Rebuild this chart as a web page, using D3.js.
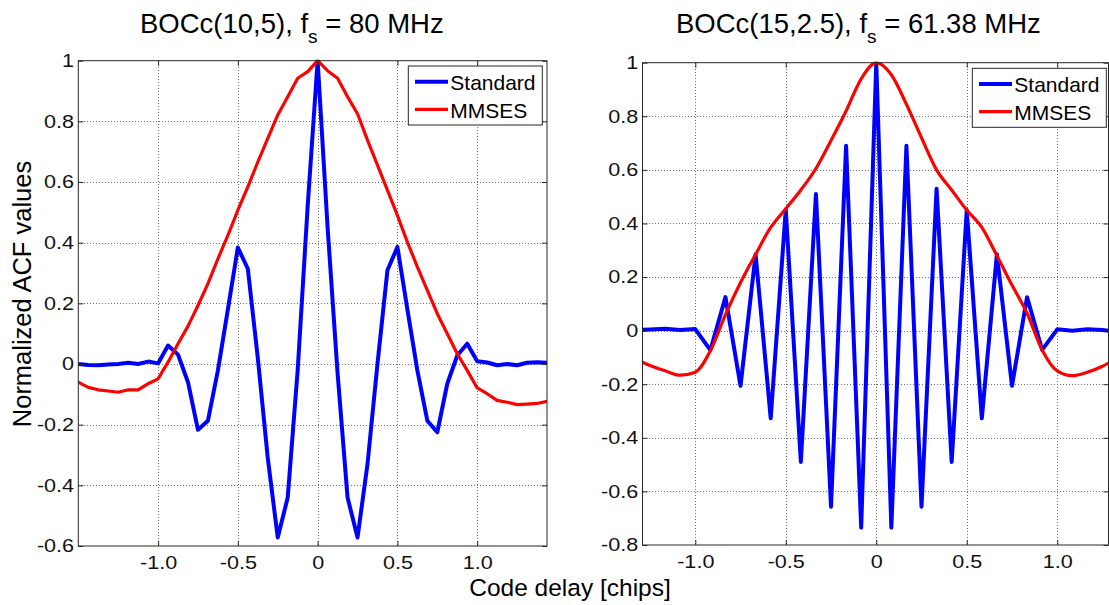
<!DOCTYPE html>
<html><head><meta charset="utf-8">
<script src="https://cdn.jsdelivr.net/npm/d3@7"></script>
<style>
body{margin:0;background:#fff}
svg{display:block;font-family:"Liberation Sans",Arial,Helvetica,sans-serif}
</style></head><body>
<svg id="c" width="1109" height="605"></svg>
<script>
// ---------------- DATA ----------------
const seriesNames = ["Standard", "MMSES"];
const titlesLeft = {main: "BOCc(10,5), f", sub: "s", rest: " = 80 MHz"};
const titlesRight = {main: "BOCc(15,2.5), f", sub: "s", rest: " = 61.38 MHz"};
const xLabel = "Code delay [chips]";
const yLabel = "Normalized ACF values";

const xTickValues = [-1, -0.5, 0, 0.5, 1];
const xTickLabels = ["-1.0", "-0.5", "0", "0.5", "1.0"];
const leftYTickValues = [-0.6, -0.4, -0.2, 0, 0.2, 0.4, 0.6, 0.8, 1];
const leftYTickLabels = ["-0.6", "-0.4", "-0.2", "0", "0.2", "0.4", "0.6", "0.8", "1"];
const rightYTickValues = [-0.8, -0.6, -0.4, -0.2, 0, 0.2, 0.4, 0.6, 0.8, 1];
const rightYTickLabels = ["-0.8", "-0.6", "-0.4", "-0.2", "0", "0.2", "0.4", "0.6", "0.8", "1"];

// Left panel: BOCc(10,5)
const leftDelay = [-1.5, -1.4375, -1.375, -1.3125, -1.25, -1.1875, -1.125, -1.0625, -1.0, -0.9375,
  -0.875, -0.8125, -0.75, -0.6875, -0.625, -0.5625, -0.5, -0.4375, -0.375, -0.3125,
  -0.25, -0.1875, -0.125, -0.0625, 0, 0.0625, 0.125, 0.1875, 0.25, 0.3125,
  0.375, 0.4375, 0.5, 0.5625, 0.625, 0.6875, 0.75, 0.8125, 0.875, 0.9375,
  1.0, 1.0625, 1.125, 1.1875, 1.25, 1.3125, 1.375, 1.4375];
const leftStandard = [0.0, -0.003, -0.004, -0.002, 0.0, 0.004, 0.0, 0.008, 0.002, 0.061,
  0.031, -0.06, -0.217, -0.187, -0.021, 0.18, 0.384, 0.314, 0.02, -0.31,
  -0.572, -0.44, -0.02, 0.52, 1.0, 0.45, -0.03, -0.44, -0.572, -0.33,
  0.0, 0.309, 0.386, 0.18, -0.021, -0.187, -0.225, -0.065, 0.028, 0.067,
  0.009, 0.005, -0.004, 0.0, -0.004, 0.004, 0.006, 0.004];
const leftMMSES = [-0.06, -0.077, -0.085, -0.089, -0.093, -0.085, -0.085, -0.065, -0.049, 0.006,
  0.067, 0.125, 0.193, 0.265, 0.347, 0.424, 0.507, 0.584, 0.666, 0.744,
  0.821, 0.881, 0.942, 0.964, 1.0, 0.967, 0.942, 0.881, 0.825, 0.738,
  0.656, 0.573, 0.49, 0.402, 0.32, 0.243, 0.166, 0.1, 0.034, -0.021,
  -0.079, -0.098, -0.12, -0.126, -0.134, -0.132, -0.13, -0.123];

// Right panel: BOCc(15,2.5)
const rightStdDelay = [-1.2917, -1.25, -1.1667, -1.0833, -1.0, -0.9167, -0.8333, -0.75, -0.6667, -0.5833,
  -0.5, -0.4167, -0.3333, -0.25, -0.1667, -0.0833, 0, 0.0833, 0.1667, 0.25,
  0.3333, 0.4167, 0.5, 0.5833, 0.6667, 0.75, 0.8333, 0.9167, 1.0, 1.0833,
  1.1667, 1.25, 1.2833];
const rightStandard = [0.003, 0.004, 0.007, 0.002, 0.006, -0.073, 0.125, -0.206, 0.285, -0.327,
  0.452, -0.49, 0.51, -0.657, 0.69, -0.735, 1.0, -0.735, 0.69, -0.657,
  0.53, -0.49, 0.45, -0.327, 0.285, -0.206, 0.125, -0.072, 0.005, 0.0,
  0.005, 0.002, 0.0];
const rightMmsesDelay = [-1.2917, -1.25, -1.1667, -1.0833, -1.0, -0.9167, -0.8333, -0.75, -0.6667, -0.5833,
  -0.5, -0.4167, -0.3333, -0.25, -0.1667, -0.0833, 0, 0.0833, 0.1667, 0.25,
  0.3333, 0.4167, 0.5, 0.5833, 0.6667, 0.75, 0.8333, 0.9167, 1.0, 1.0833,
  1.1667, 1.25, 1.2833];
const rightMMSES = [-0.118, -0.13, -0.15, -0.166, -0.155, -0.075, 0.06, 0.18, 0.285, 0.385,
  0.455, 0.525, 0.605, 0.71, 0.82, 0.94, 1.0, 0.955, 0.845, 0.72,
  0.6, 0.525, 0.45, 0.385, 0.28, 0.17, 0.065, -0.072, -0.15, -0.168,
  -0.155, -0.133, -0.121];

// ---------------- DRAW ----------------
const svg = d3.select("#c");
const ink = "#262626";

function panel(cfg) {
  const x = d3.scaleLinear().domain(cfg.xDomain).range(cfg.xRange);
  const y = d3.scaleLinear().domain(cfg.yDomain).range(cfg.yRange);
  const [L, R] = cfg.xRange, [B, T] = cfg.yRange;
  const g = svg.append("g");
  const clipId = "clip" + cfg.id;
  svg.append("clipPath").attr("id", clipId).append("rect")
    .attr("x", L).attr("y", T - 1).attr("width", R - L).attr("height", B - T + 2);

  // grid
  const grid = g.append("g").attr("stroke", "#6e6e6e").attr("stroke-width", 1)
    .attr("stroke-dasharray", "1,2").attr("shape-rendering", "crispEdges");
  grid.selectAll("line.v").data(xTickValues).join("line").attr("class", "v")
    .attr("x1", d => Math.round(x(d)) + 0.5).attr("x2", d => Math.round(x(d)) + 0.5)
    .attr("y1", T).attr("y2", B);
  grid.selectAll("line.h").data(cfg.yTicks.filter(d => d > cfg.yDomain[0] && d < cfg.yDomain[1]))
    .join("line").attr("class", "h")
    .attr("y1", d => Math.round(y(d)) + 0.5).attr("y2", d => Math.round(y(d)) + 0.5)
    .attr("x1", L).attr("x2", R);

  // series
  const lines = g.append("g").attr("clip-path", `url(#${clipId})`);
  const stdData = cfg.stdX.map((d, i) => [d, cfg.stdY[i]]);
  const mmData = cfg.mmX.map((d, i) => [d, cfg.mmY[i]]);
  lines.append("path").datum(stdData)
    .attr("d", d3.line().x(d => x(d[0])).y(d => y(d[1])))
    .attr("fill", "none").attr("stroke", "#0000ff").attr("stroke-width", 4)
    .attr("stroke-linejoin", "round");
  lines.append("path").datum(mmData)
    .attr("d", d3.line().curve(cfg.mmCurve).x(d => x(d[0])).y(d => y(d[1])))
    .attr("fill", "none").attr("stroke", "#ff0000").attr("stroke-width", 3.2)
    .attr("stroke-linejoin", "round");

  // axes (ticks point inward)
  const styleAxis = sel => {
    sel.select(".domain").remove();
    sel.selectAll(".tick line").attr("stroke", ink);
    sel.selectAll(".tick text").attr("fill", "#111").attr("font-size", 18)
      .attr("font-family", "Liberation Sans, Arial, sans-serif")
      .attr("transform", "scale(1.2,1)");
  };
  g.append("g").attr("transform", `translate(0,${B})`)
    .call(d3.axisBottom(x).tickValues(xTickValues).tickFormat((d, i) => xTickLabels[i])
      .tickSizeInner(-5).tickSizeOuter(0).tickPadding(10.5)).call(styleAxis);
  g.append("g").attr("transform", `translate(0,${T})`)
    .call(d3.axisTop(x).tickValues(xTickValues).tickFormat("").tickSizeInner(-5).tickSizeOuter(0))
    .call(styleAxis);
  g.append("g").attr("transform", `translate(${L},0)`)
    .call(d3.axisLeft(y).tickValues(cfg.yTicks).tickFormat((d, i) => cfg.yLabels[i])
      .tickSizeInner(-5).tickSizeOuter(0).tickPadding(3.5)).call(styleAxis);
  g.append("g").attr("transform", `translate(${R},0)`)
    .call(d3.axisRight(y).tickValues(cfg.yTicks).tickFormat("").tickSizeInner(-5).tickSizeOuter(0))
    .call(styleAxis);

  // frame
  g.append("rect").attr("x", L).attr("y", T).attr("width", R - L).attr("height", B - T)
    .attr("fill", "none").attr("stroke", ink).attr("stroke-width", 1);

  // title
  const t = g.append("text").attr("x", cfg.titleX).attr("y", 33.3)
    .attr("font-size", 27.5).attr("fill", "#000");
  t.append("tspan").text(cfg.title.main);
  t.append("tspan").attr("dy", 10).attr("font-size", 19).text(cfg.title.sub);
  t.append("tspan").attr("dy", -10).text(cfg.title.rest);

  // legend
  const lg = g.append("g").attr("transform", `translate(${cfg.legX},${cfg.legY})`);
  lg.append("rect").attr("width", 134).attr("height", 59).attr("fill", "#fff")
    .attr("stroke", ink).attr("stroke-width", 1);
  const colors = ["#0000ff", "#ff0000"];
  const widths = [4, 3.2];
  seriesNames.forEach((name, i) => {
    const ly = 15.7 + i * 27.6;
    lg.append("line").attr("x1", 6.7).attr("x2", 39.7).attr("y1", ly).attr("y2", ly)
      .attr("stroke", colors[i]).attr("stroke-width", widths[i]);
    lg.append("text").attr("x", 42).attr("y", ly + 8.2).attr("font-size", 21)
      .attr("fill", "#000").text(name);
  });
}

panel({
  id: "L", xDomain: [-1.5, 1.4375], xRange: [78.3, 547], yDomain: [-0.6, 1], yRange: [546, 60.7],
  yTicks: leftYTickValues, yLabels: leftYTickLabels,
  stdX: leftDelay, stdY: leftStandard, mmX: leftDelay, mmY: leftMMSES, mmCurve: d3.curveLinear,
  title: titlesLeft, titleX: 140, legX: 408.3, legY: 66
});
panel({
  id: "R", xDomain: [-1.2917, 1.2833], xRange: [642.5, 1108.5], yDomain: [-0.8, 1], yRange: [545, 62.7],
  yTicks: rightYTickValues, yLabels: rightYTickLabels,
  stdX: rightStdDelay, stdY: rightStandard, mmX: rightMmsesDelay, mmY: rightMMSES, mmCurve: d3.curveMonotoneX,
  title: titlesRight, titleX: 676, legX: 972.3, legY: 68.3
});

// axis labels
svg.append("text").attr("x", 570).attr("y", 596).attr("text-anchor", "middle")
  .attr("font-size", 24.5).attr("fill", "#000").text(xLabel);
svg.append("text").attr("transform", "translate(31,294) rotate(-90)").attr("text-anchor", "middle")
  .attr("font-size", 25.5).attr("fill", "#000").text(yLabel);
</script></body></html>
